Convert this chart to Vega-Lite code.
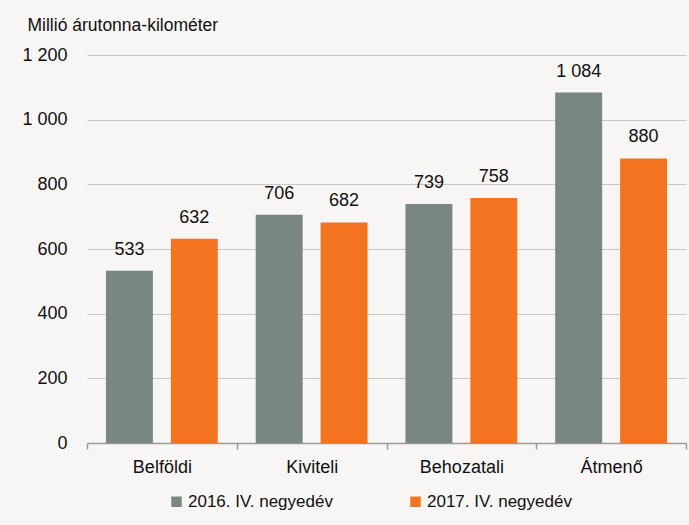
{
  "$schema": "https://vega.github.io/schema/vega-lite/v6.json",
  "width": 599,
  "height": 388,
  "autosize": {"type": "none"},
  "padding": {"left": 87, "top": 55, "right": 3, "bottom": 82},
  "background": "#f7f6f4",
  "config": {
    "view": {"stroke": null},
    "font": "Liberation Sans, Arial",
    "locale": {"number": {"decimal": ",", "thousands": " ", "grouping": [3], "currency": ["", ""]}}
  },
  "data": {
    "values": [
      {"kat": "Belföldi", "ev": "2016. IV. negyedév", "v": 533},
      {"kat": "Belföldi", "ev": "2017. IV. negyedév", "v": 632},
      {"kat": "Kiviteli", "ev": "2016. IV. negyedév", "v": 706},
      {"kat": "Kiviteli", "ev": "2017. IV. negyedév", "v": 682},
      {"kat": "Behozatali", "ev": "2016. IV. negyedév", "v": 739},
      {"kat": "Behozatali", "ev": "2017. IV. negyedév", "v": 758},
      {"kat": "Átmenő", "ev": "2016. IV. negyedév", "v": 1084},
      {"kat": "Átmenő", "ev": "2017. IV. negyedév", "v": 880}
    ]
  },
  "encoding": {
    "x": {
      "field": "kat", "type": "nominal", "sort": null,
      "scale": {"paddingInner": 0, "paddingOuter": 0},
      "axis": {
        "title": null, "labelAngle": 0, "tickBand": "extent",
        "domainColor": "#9a9a9a", "domainWidth": 1.5, "tickColor": "#9a9a9a", "tickWidth": 1.5, "tickSize": 6,
        "labelFontSize": 18, "labelColor": "#111111", "labelPadding": 9
      }
    },
    "xOffset": {
      "field": "ev", "type": "nominal",
      "scale": {"paddingInner": 0.277, "paddingOuter": 0.292}
    },
    "y": {
      "field": "v", "type": "quantitative",
      "scale": {"domain": [0, 1200]},
      "axis": {
        "values": [0, 200, 400, 600, 800, 1000, 1200], "format": ",d",
        "domain": false, "ticks": false, "gridColor": "#c8c8c8", "gridWidth": 1.2,
        "labelFontSize": 18, "labelColor": "#111111", "labelPadding": 20,
        "title": "Millió árutonna-kilométer", "titleAngle": 0, "titleAlign": "left", "titleBaseline": "middle",
        "titleX": -60, "titleY": -30, "titleFontSize": 17.5, "titleFontWeight": "normal", "titleColor": "#111111"
      }
    }
  },
  "layer": [
    {
      "mark": {"type": "bar"},
      "encoding": {
        "color": {
          "field": "ev", "type": "nominal",
          "scale": {"range": ["#78877f", "#f47321"]},
          "legend": {
            "title": null, "orient": "none", "direction": "horizontal",
            "legendX": 81, "legendY": 438,
            "symbolType": "square", "symbolSize": 110, "symbolStrokeWidth": 0, "symbolOpacity": 1,
            "labelFontSize": 17, "labelColor": "#111111", "labelOffset": 3, "labelLimit": 300, "columnPadding": 74
          }
        }
      }
    },
    {
      "mark": {"type": "text", "dy": -16, "baseline": "alphabetic", "fontSize": 18, "color": "#111111"},
      "encoding": {
        "text": {"field": "v", "type": "quantitative", "format": ",d"}
      }
    }
  ]
}
